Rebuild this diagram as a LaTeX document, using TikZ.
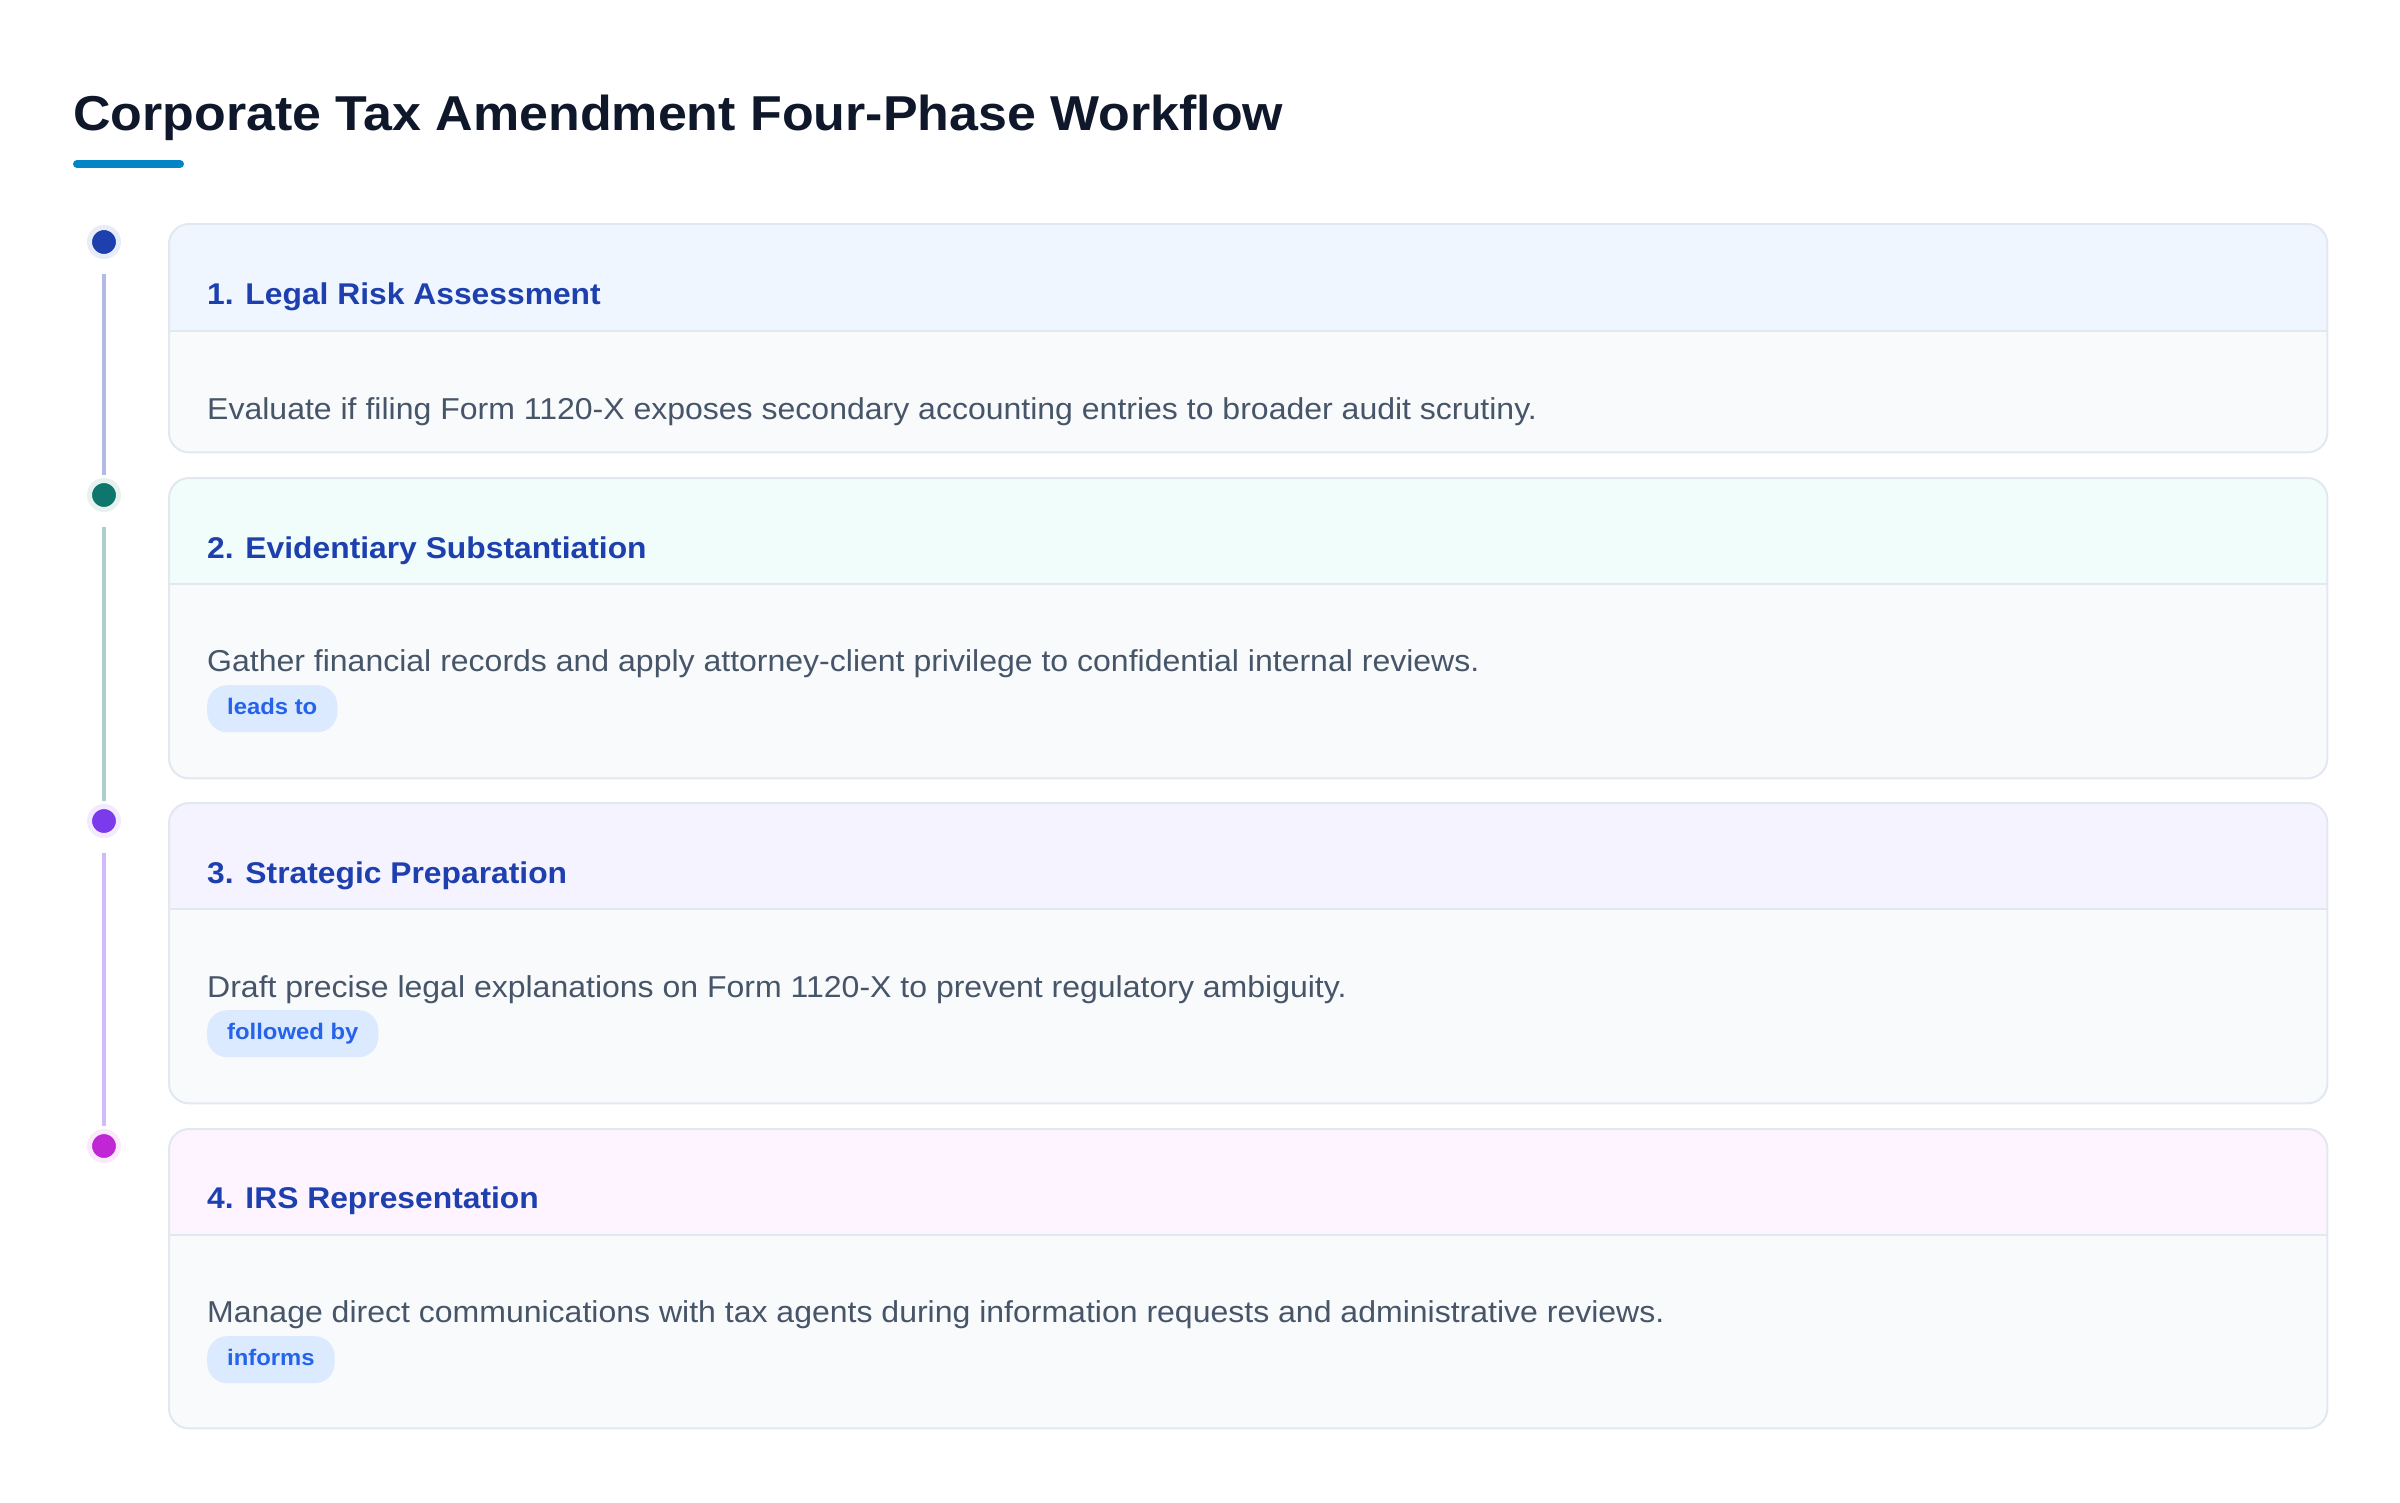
\documentclass[tikz,border=0pt]{standalone}
\usepackage{fontspec}
\setmainfont{Liberation Sans}[FakeStretch=1.06]
\definecolor{titleink}{HTML}{0F172A}
\definecolor{ruleblue}{HTML}{0284C7}
\definecolor{headink}{HTML}{1E40AF}
\definecolor{bodyink}{HTML}{475569}
\definecolor{edgegray}{HTML}{E2E8F0}
\definecolor{bodyfill}{HTML}{F8FAFC}
\definecolor{tagfill}{HTML}{DBEAFE}
\definecolor{tagink}{HTML}{2563EB}
\definecolor{phaseA}{HTML}{1E40AF}
\definecolor{phaseB}{HTML}{0F766E}
\definecolor{phaseC}{HTML}{7C3AED}
\definecolor{phaseD}{HTML}{C026D3}
\definecolor{hdrA}{HTML}{EFF6FF}
\definecolor{hdrB}{HTML}{F0FDFA}
\definecolor{hdrC}{HTML}{F5F3FF}
\definecolor{hdrD}{HTML}{FDF4FF}

\begin{document}
\begin{tikzpicture}[x=1pt,y=-1pt]
\tikzset{
  card/.style={rectangle, rounded corners=20pt, fill=bodyfill, minimum width=2158pt, anchor=north west, inner sep=0pt},
  cardedge/.style={draw=edgegray, line width=2pt, rounded corners=20pt},
  divider/.style={draw=edgegray, line width=2pt},
  phasehead/.style={anchor=base west, inner sep=0pt, text=headink, font=\fontsize{30}{36}\selectfont\bfseries},
  phasetext/.style={anchor=base west, inner sep=0pt, text=bodyink, font=\fontsize{30.2}{36}\selectfont},
  linktag/.style={anchor=north west, fill=tagfill, text=tagink, rounded corners=20pt, inner xsep=20pt, inner ysep=0pt, minimum height=47pt, text height=17pt, text depth=5pt, font=\fontsize{22.5}{27}\selectfont\bfseries},
  phasedot/.style={circle, fill=#1, draw=#1!10, line width=5pt, minimum size=29pt, inner sep=0pt},
  rail/.style={draw=#1!35, line width=4pt, shorten <=15pt, shorten >=3pt}
}
\useasboundingbox (0,0) rectangle (2400,1502);
\node[anchor=base west, inner sep=0pt, text=titleink, font=\fontsize{49}{58}\selectfont\bfseries] (title) at (73,130) {Corporate Tax Amendment Four-Phase Workflow};
\draw[ruleblue, line width=8pt, line cap=round] (77,164) -- (180,164);

% cards
\node[card, minimum height=228pt] (card1) at (169,224) {};
\begin{scope}
\clip[rounded corners=20pt] (card1.south west) rectangle (card1.north east);
\fill[hdrA] (card1.north west) rectangle ([yshift=-107pt]card1.north east);
\end{scope}
\draw[divider] ([yshift=-107pt]card1.north west) -- ([yshift=-107pt]card1.north east);
\draw[cardedge] (card1.south west) rectangle (card1.north east);

\node[card, minimum height=300pt] (card2) at (169,478) {};
\begin{scope}
\clip[rounded corners=20pt] (card2.south west) rectangle (card2.north east);
\fill[hdrB] (card2.north west) rectangle ([yshift=-106pt]card2.north east);
\end{scope}
\draw[divider] ([yshift=-106pt]card2.north west) -- ([yshift=-106pt]card2.north east);
\draw[cardedge] (card2.south west) rectangle (card2.north east);

\node[card, minimum height=300pt] (card3) at (169,803) {};
\begin{scope}
\clip[rounded corners=20pt] (card3.south west) rectangle (card3.north east);
\fill[hdrC] (card3.north west) rectangle ([yshift=-106pt]card3.north east);
\end{scope}
\draw[divider] ([yshift=-106pt]card3.north west) -- ([yshift=-106pt]card3.north east);
\draw[cardedge] (card3.south west) rectangle (card3.north east);

\node[card, minimum height=299pt] (card4) at (169,1129) {};
\begin{scope}
\clip[rounded corners=20pt] (card4.south west) rectangle (card4.north east);
\fill[hdrD] (card4.north west) rectangle ([yshift=-106pt]card4.north east);
\end{scope}
\draw[divider] ([yshift=-106pt]card4.north west) -- ([yshift=-106pt]card4.north east);
\draw[cardedge] (card4.south west) rectangle (card4.north east);

% texts
\node[phasehead] (head1) at (207,304) {1. Legal Risk Assessment};
\node[phasetext] (desc1) at (207,419) {Evaluate if filing Form 1120-X exposes secondary accounting entries to broader audit scrutiny.};
\node[phasehead] (head2) at (207,558) {2. Evidentiary Substantiation};
\node[phasetext] (desc2) at (207,671) {Gather financial records and apply attorney-client privilege to confidential internal reviews.};
\node[linktag] (tag2) at (207,685) {leads to};
\node[phasehead] (head3) at (207,883) {3. Strategic Preparation};
\node[phasetext] (desc3) at (207,997) {Draft precise legal explanations on Form 1120-X to prevent regulatory ambiguity.};
\node[linktag] (tag3) at (207,1010) {followed by};
\node[phasehead] (head4) at (207,1208) {4. IRS Representation};
\node[phasetext] (desc4) at (207,1322) {Manage direct communications with tax agents during information requests and administrative reviews.};
\node[linktag] (tag4) at (207,1336) {informs};

% timeline
\node[phasedot=phaseA] (dot1) at (104,242) {};
\node[phasedot=phaseB] (dot2) at (104,495) {};
\node[phasedot=phaseC] (dot3) at (104,821) {};
\node[phasedot=phaseD] (dot4) at (104,1146) {};
\draw[rail=phaseA] (dot1) -- (dot2);
\draw[rail=phaseB] (dot2) -- (dot3);
\draw[rail=phaseC] (dot3) -- (dot4);
\end{tikzpicture}
\end{document}
